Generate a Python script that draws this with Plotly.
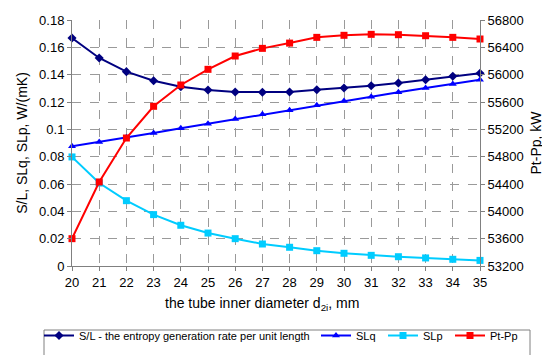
import plotly.graph_objects as go

d2i = [20, 21, 22, 23, 24, 25, 26, 27, 28, 29, 30, 31, 32, 33, 34, 35]
s_l = [0.1668, 0.1522, 0.1422, 0.1356, 0.1312, 0.1288, 0.1273, 0.1271, 0.1273, 0.1290,
       0.1302, 0.1319, 0.1339, 0.1363, 0.1388, 0.1410]
slq = [0.0876, 0.0907, 0.0942, 0.0973, 0.1008, 0.1041, 0.1076, 0.1110, 0.1139, 0.1176,
       0.1207, 0.1239, 0.1271, 0.1302, 0.1332, 0.1363]
slp = [0.0798, 0.0607, 0.0478, 0.0376, 0.0298, 0.0241, 0.0200, 0.0161, 0.0137, 0.0112,
       0.0093, 0.0078, 0.0068, 0.0059, 0.0049, 0.0041]
pt_pp = [53600, 54430, 55073, 55537, 55849, 56078, 56273, 56385, 56462, 56546,
         56576, 56590, 56585, 56570, 56546, 56522]

font = "Liberation Sans, Arial, sans-serif"
grid = "#9a9a9a"

# plot-area pixel geometry (for converting legend placement)
PL, PR, PT, PB = 64, 472, 12, 258
def px_x(p):
    return (p - PL) / (PR - PL)
def px_y(p):
    return (PB - p) / (PB - PT)

fig = go.Figure()
fig.add_trace(go.Scatter(x=d2i, y=s_l, name="S/L - the entropy generation rate per unit length",
                         mode="lines+markers", line=dict(color="#000080", width=2),
                         marker=dict(symbol="diamond", size=7, color="#000080"), cliponaxis=False,
                         legend="legend"))
fig.add_trace(go.Scatter(x=d2i, y=slq, name="SLq", mode="lines+markers",
                         line=dict(color="#0000FF", width=2),
                         marker=dict(symbol="triangle-up", size=7, color="#0000FF"), cliponaxis=False,
                         legend="legend2"))
fig.add_trace(go.Scatter(x=d2i, y=slp, name="SLp", mode="lines+markers",
                         line=dict(color="#00CCFF", width=2),
                         marker=dict(symbol="square", size=7, color="#00CCFF"), cliponaxis=False,
                         legend="legend3"))
fig.add_trace(go.Scatter(x=d2i, y=pt_pp, name="Pt-Pp", mode="lines+markers", yaxis="y2",
                         line=dict(color="#FF0000", width=2),
                         marker=dict(symbol="square", size=7, color="#FF0000"), cliponaxis=False,
                         legend="legend4"))

leg_common = dict(orientation="h", xanchor="left", yanchor="top", y=px_y(313),
                  bgcolor="rgba(0,0,0,0)", borderwidth=0, font=dict(size=11),
                  itemwidth=30)
legend_left_px = [31, 308, 375, 442]

fig.update_layout(
    width=550, height=355,
    margin=dict(l=PL, r=550 - PR, t=PT, b=355 - PB, autoexpand=False),
    paper_bgcolor="white", plot_bgcolor="white",
    font=dict(family=font, size=13, color="black"),
    xaxis=dict(range=[20, 35], dtick=1, tick0=20, showgrid=True, gridcolor=grid, griddash="dash",
               gridwidth=1, showline=True, linecolor="#808080", linewidth=1,
               ticks="outside", ticklen=4, tickcolor="#808080", zeroline=False,
               tickfont=dict(size=13)),
    yaxis=dict(range=[0, 0.18], dtick=0.02, showgrid=True, gridcolor=grid, griddash="dash",
               gridwidth=1, showline=True, linecolor="#808080", linewidth=1,
               ticks="outside", ticklen=4, tickcolor="#808080", zeroline=False,
               title=dict(text="S/L, SLq, SLp, W/(mK)", font=dict(size=14), standoff=8),
               tickfont=dict(size=13)),
    yaxis2=dict(range=[53200, 56800], dtick=400, overlaying="y", side="right", showgrid=False,
                showline=True, linecolor="#808080", linewidth=1, ticks="outside", ticklen=4,
                tickcolor="#808080", zeroline=False, tickformat="d",
                title=dict(text="Pt-Pp, kW", font=dict(size=14), standoff=8),
                tickfont=dict(size=13)),
    legend=dict(leg_common, x=px_x(legend_left_px[0])),
    legend2=dict(leg_common, x=px_x(legend_left_px[1])),
    legend3=dict(leg_common, x=px_x(legend_left_px[2])),
    legend4=dict(leg_common, x=px_x(legend_left_px[3])),
    shapes=[dict(type="rect", xref="paper", yref="paper",
                 x0=px_x(36), x1=px_x(522), y0=px_y(350), y1=px_y(322),
                 line=dict(color="#808080", width=1), fillcolor="rgba(0,0,0,0)")],
    annotations=[dict(text="the tube inner diameter d<sub>2i</sub>, mm", xref="paper", yref="paper",
                      x=0.466, y=-0.154, xanchor="center", yanchor="middle", showarrow=False,
                      font=dict(size=14))],
    showlegend=True,
)

fig.write_html("out.html")
